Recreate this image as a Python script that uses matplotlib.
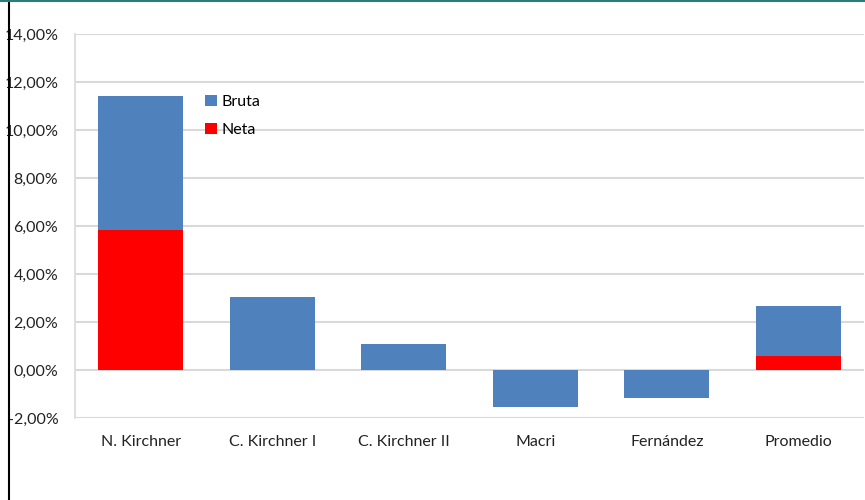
import matplotlib
matplotlib.use("Agg")
import matplotlib.pyplot as plt
from matplotlib.lines import Line2D
from matplotlib.ticker import FuncFormatter

categories = ["N. Kirchner", "C. Kirchner I", "C. Kirchner II", "Macri", "Fernández", "Promedio"]
bruta = [11.4, 3.05, 1.08, -1.53, -1.17, 2.67]
neta = [5.83, 0.0, 0.0, 0.0, 0.0, 0.60]
yticks = [-2, 0, 2, 4, 6, 8, 10, 12, 14]

plt.rcParams['font.family'] = ['Lato', 'DejaVu Sans']

fig = plt.figure(figsize=(8.65, 5.0), dpi=100)
ax = fig.add_axes([75/865, 1-418/500, (864-75)/865, (418-34)/500])

x = range(len(categories))
ax.bar(x, bruta, width=0.65, color="#4f81bd", label="Bruta", zorder=3)
ax.bar(x, neta, width=0.65, color="#ff0000", label="Neta", zorder=4)

ax.set_xlim(-0.5, len(categories)-0.5)
ax.set_ylim(-2, 14)
ax.set_yticks(yticks)
ax.yaxis.set_major_formatter(FuncFormatter(lambda v, p: f"{v:.2f}".replace(".", ",") + "%"))
ax.set_xticks(list(x))
ax.set_xticklabels(categories, fontsize=11.5, color="#222222")
ax.tick_params(axis='y', labelsize=11.5, length=0, pad=12, colors="#222222")
ax.tick_params(axis='x', length=0, pad=12)
ax.grid(axis='y', color="#d9d9d9", linewidth=1.5, zorder=0)
for s in ["top", "right", "bottom"]:
    ax.spines[s].set_visible(False)
ax.spines["left"].set_color("#d9d9d9")
ax.spines["left"].set_linewidth(1.2)

leg = ax.legend(loc="upper left", bbox_to_anchor=(0.147, 0.878), frameon=False,
                fontsize=11.5, handlelength=0.7, handleheight=0.7, handletextpad=0.3,
                labelspacing=0.85)

# outer frame lines
fig.add_artist(Line2D([9/865, 9/865], [0, 1], transform=fig.transFigure, color="black", linewidth=1.5))
fig.add_artist(Line2D([0, 1], [0.998, 0.998], transform=fig.transFigure, color="#2e7d74", linewidth=1.5))

fig.savefig("out.png", dpi=100)
